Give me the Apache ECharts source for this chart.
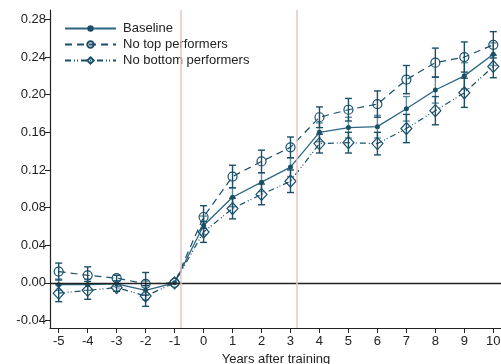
<!DOCTYPE html>
<html>
<head>
<meta charset="utf-8">
<script src="https://cdn.jsdelivr.net/npm/echarts@6/dist/echarts.min.js"></script>
<style>
html,body{margin:0;padding:0;background:#fff}
#chart{width:501px;height:364px}
</style>
</head>
<body>
<div id="chart"></div>
<script>
// years relative to training
var years = [-5,-4,-3,-2,-1,0,1,2,3,4,5,6,7,8,9,10];
var xTicks = [-5,-4,-3,-2,-1,0,1,2,3,4,5,6,7,8,9,10];
var yTicks = [-0.04,0,0.04,0.08,0.12,0.16,0.20,0.24,0.28];

var baseline = [-0.002,-0.002,-0.001,-0.008,0,0.061,0.091,0.107,0.123,0.160,0.165,0.166,0.185,0.205,0.220,0.243];
var noTop    = [0.012,0.008,0.005,-0.001,0,0.070,0.113,0.129,0.144,0.176,0.184,0.190,0.216,0.234,0.240,0.253];
var noBottom = [-0.011,-0.008,-0.005,-0.014,0,0.054,0.079,0.094,0.108,0.148,0.149,0.148,0.164,0.183,0.202,0.230];

// half width of the 95% intervals
var baselineCI = [0.006,0.006,0.003,0.010,0,0.010,0.010,0.010,0.010,0.010,0.011,0.012,0.013,0.014,0.014,0.012];
var noTopCI    = [0.009,0.009,0.003,0.012,0,0.012,0.012,0.012,0.011,0.011,0.012,0.014,0.015,0.0155,0.016,0.014];
var noBottomCI = [0.009,0.0095,0.004,0.011,0,0.011,0.011,0.011,0.012,0.010,0.011,0.012,0.015,0.015,0.0155,0.012];

var refLines = [-0.79, 3.22];

function pts(v){ return years.map(function(x,i){ return [x, v[i]]; }); }
function bars(v, ci){ return years.map(function(x,i){ return [x, v[i]-ci[i], v[i]+ci[i]]; }); }

function errBar(color){
  return function(params, api){
    var lo = api.value(1), hi = api.value(2);
    if (hi - lo < 1e-9) return null;
    var a = api.coord([api.value(0), hi]);
    var b = api.coord([api.value(0), lo]);
    var w = 3.5;
    var st = {stroke: color, lineWidth: 1.4};
    return {type:'group', children:[
      {type:'line', shape:{x1:a[0],y1:a[1],x2:b[0],y2:b[1]}, style:st},
      {type:'line', shape:{x1:a[0]-w,y1:a[1],x2:a[0]+w,y2:a[1]}, style:st},
      {type:'line', shape:{x1:b[0]-w,y1:b[1],x2:b[0]+w,y2:b[1]}, style:st}
    ]};
  };
}

var dark = '#1b4f68';
var mid = '#2c6580';
var txt = '#222';
var font = 'Liberation Sans, Arial, sans-serif';

var myChart = echarts.init(document.getElementById('chart'));
var option = {
  animation:false,
  textStyle:{fontFamily:font},
  grid:{left:50, top:10, width:452, height:318, containLabel:false, outerBoundsMode:'none'},
  legend:{
    data:['Baseline','No top performers','No bottom performers'],
    orient:'vertical',
    left:59, top:17,
    itemWidth:51, itemHeight:8, itemGap:3,
    textStyle:{fontSize:13, color:txt, fontFamily:font, padding:[0,0,0,2]}
  },
  xAxis:{
    type:'value', min:-5.3, max:10.3,
    name:'Years after training', nameLocation:'middle', nameGap:19,
    nameTextStyle:{fontSize:13, color:txt},
    axisLine:{onZero:false, lineStyle:{color:txt, width:1.2}},
    axisTick:{customValues:xTicks, length:5, lineStyle:{color:txt}},
    axisLabel:{customValues:xTicks, fontSize:13, color:txt, margin:7},
    splitLine:{show:false}
  },
  yAxis:{
    type:'value', min:-0.048, max:0.29,
    axisLine:{show:true, onZero:false, lineStyle:{color:txt, width:1.2}},
    axisTick:{show:true, customValues:yTicks, length:5, lineStyle:{color:txt}},
    axisLabel:{customValues:yTicks, fontSize:13, color:txt, margin:4,
      formatter:function(v){ return v.toFixed(2); }},
    splitLine:{show:false}
  },
  series:[
    {type:'custom', renderItem:errBar('rgba(44,101,128,0.75)'), data:bars(baseline, baselineCI), z:2, silent:true},
    {type:'custom', renderItem:errBar(dark), data:bars(noTop, noTopCI), z:2, silent:true},
    {type:'custom', renderItem:errBar(dark), data:bars(noBottom, noBottomCI), z:2, silent:true},
    {
      name:'Baseline', type:'line', data:pts(baseline), z:4,
      symbol:'circle', symbolSize:5,
      lineStyle:{color:mid, width:1.3},
      itemStyle:{color:dark},
      markLine:{silent:true, symbol:'none', label:{show:false},
        data:[
          {yAxis:0, lineStyle:{color:'#222', width:1.3, type:'solid'}},
          {xAxis:refLines[0], lineStyle:{color:'#e8c4c4', width:1.5, type:'solid'}},
          {xAxis:refLines[1], lineStyle:{color:'#e8c4c4', width:1.5, type:'solid'}}
        ]}
    },
    {
      name:'No top performers', type:'line', data:pts(noTop), z:4,
      symbol:'circle', symbolSize:9,
      lineStyle:{color:dark, width:1.2, type:[7,5]},
      itemStyle:{color:'rgba(0,0,0,0)', borderColor:dark, borderWidth:1.2}
    },
    {
      name:'No bottom performers', type:'line', data:pts(noBottom), z:4,
      symbol:'diamond', symbolSize:[11,12],
      lineStyle:{color:dark, width:1.2, type:[6,3,1,2,1,3]},
      itemStyle:{color:'rgba(0,0,0,0)', borderColor:dark, borderWidth:1.2}
    }
  ]
};
myChart.setOption(option);
</script>
</body>
</html>
